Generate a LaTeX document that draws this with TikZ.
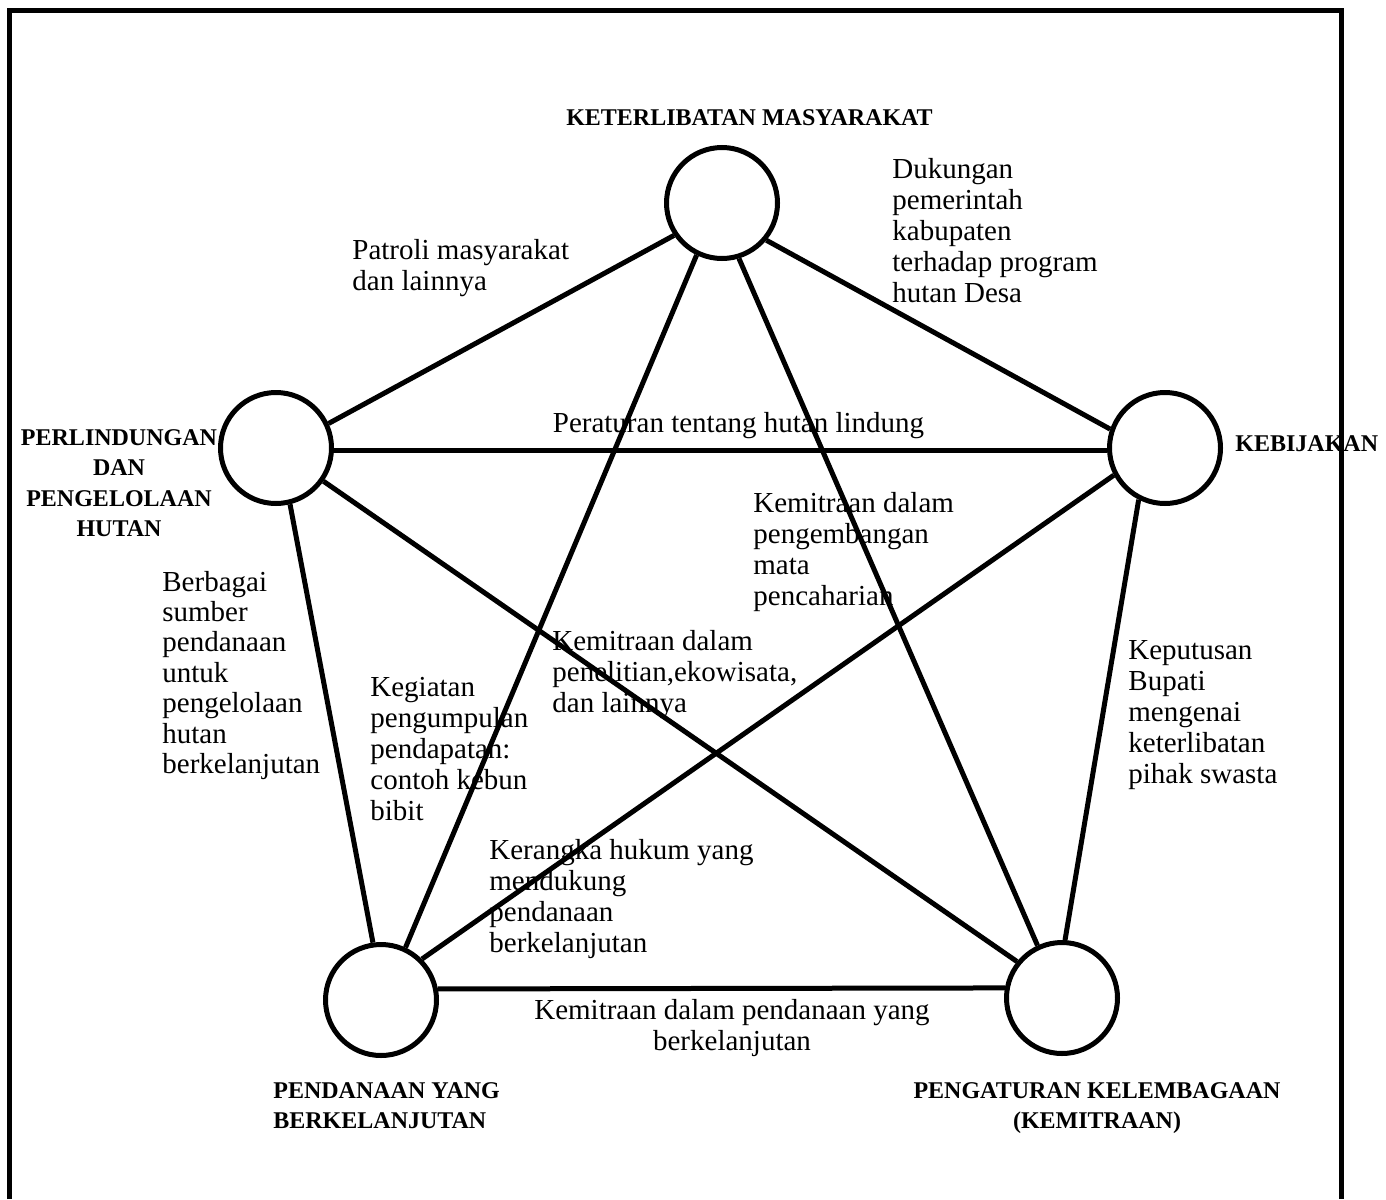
\documentclass[tikz,border=0pt]{standalone}
\usepackage{fontspec}
\setmainfont{Liberation Serif}
\newcommand\ml[2][l]{\begin{tabular}[t]{@{}#1@{}}#2\end{tabular}}
\begin{document}
\begin{tikzpicture}[x=0.5pt,y=-0.5pt,
  hub/.style={circle,draw,line width=2.5pt,minimum size=55.5pt,inner sep=0pt},
  link/.style={line width=2.5pt},
  lbl/.style={inner sep=0pt,font=\fontsize{14.5}{15.5}\selectfont,anchor=base west},
  head/.style={inner sep=0pt,font=\fontsize{12}{15.3}\selectfont\bfseries,anchor=base}]
\useasboundingbox (0,0) rectangle (1386,1199);
\draw[line width=2.5pt] (9.5,1199) -- (9.5,10) -- (1341,10) -- (1341,1199);

\node[hub] (T) at (722,203) {};
\node[hub] (L) at (276,448) {};
\node[hub] (R) at (1165,448) {};
\node[hub] (BL) at (381,1000) {};
\node[hub] (BR) at (1062,998) {};

\draw[link] (T.214.8) -- (L.25.7);
\draw[link] (T.-40.9) -- (R.161);
\draw[link] (L.-2) -- (R.182);
\draw[link] (L.-35.5) -- (BR.141.3);
\draw[link] (L.-76.7) -- (BL.98.8);
\draw[link] (T.-116.1) -- (BL.65.5);
\draw[link] (T.-73.8) -- (BR.115.3);
\draw[link] (R.208.7) -- (BL.45.7);
\draw[link] (R.243.9) -- (BR.87);
\draw[link] (BL.11.5) -- (BR.170);

\node[head] (hT) at (749.5,125) {KETERLIBATAN MASYARAKAT};
\node[head] (hL) at (119,445) {\ml[c]{PERLINDUNGAN\\DAN\\PENGELOLAAN\\HUTAN}};
\node[head,anchor=base west] (hR) at (1235,451) {KEBIJAKAN};
\node[head,anchor=base west] (hBL) at (273,1098) {\ml{PENDANAAN YANG\\BERKELANJUTAN}};
\node[head] (hBR) at (1097,1098) {\ml[c]{PENGATURAN KELEMBAGAAN\\(KEMITRAAN)}};

\node[lbl] (e1) at (352,259) {\ml{Patroli masyarakat\\dan lainnya}};
\node[lbl] (e2) at (892,178) {\ml{Dukungan\\pemerintah\\kabupaten\\terhadap program\\hutan Desa}};
\node[lbl,anchor=base] (e3) at (738.5,432) {Peraturan tentang hutan lindung};
\node[lbl] (e4) at (753,512) {\ml{Kemitraan dalam\\pengembangan\\mata\\pencaharian}};
\node[lbl,font=\fontsize{14.5}{15.2}\selectfont] (e5) at (162,591) {\ml{Berbagai\\sumber\\pendanaan\\untuk\\pengelolaan\\hutan\\berkelanjutan}};
\node[lbl] (e6) at (552,650) {\ml{Kemitraan dalam\\penelitian,ekowisata,\\dan lainnya}};
\node[lbl] (e7) at (1128,659) {\ml{Keputusan\\Bupati\\mengenai\\keterlibatan\\pihak swasta}};
\node[lbl] (e8) at (370,696) {\ml{Kegiatan\\pengumpulan\\pendapatan:\\contoh kebun\\bibit}};
\node[lbl] (e9) at (489,859) {\ml{Kerangka hukum yang\\mendukung\\pendanaan\\berkelanjutan}};
\node[lbl,anchor=base] (e10) at (732,1019) {\ml[c]{Kemitraan dalam pendanaan yang\\berkelanjutan}};
\end{tikzpicture}
\end{document}
